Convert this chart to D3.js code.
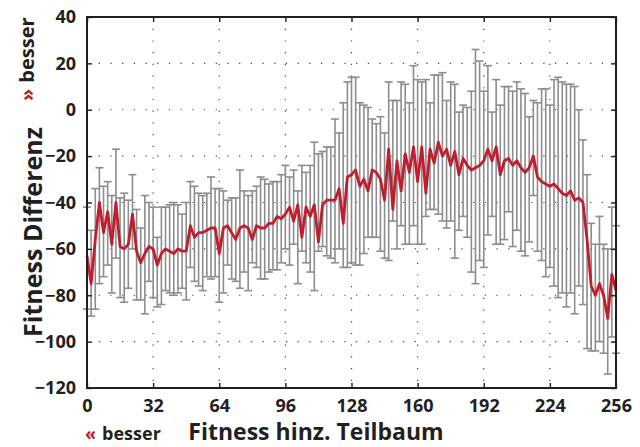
<!DOCTYPE html>
<html>
<head>
<meta charset="utf-8">
<script src="https://cdn.jsdelivr.net/npm/d3@7/dist/d3.min.js"></script>
<style>
  html, body { margin: 0; padding: 0; background: #fff; }
  svg { display: block; }
  text { font-family: "Open Sans", "DejaVu Sans", sans-serif; font-weight: 700; fill: #231f20; }
</style>
</head>
<body>
<svg id="chart" width="640" height="447"></svg>
<script>
// Subtree fitness (x) sampled every 2 units from 0 to 256
const xPositions = d3.range(0, 257, 2);

// Mean fitness difference at each x
const meanDiff = [
  -63, -75, -56, -40, -53, -44, -58, -40, -59, -60, -58, -45, -61, -66, -62, -59,
  -60, -67, -62, -60, -61, -62, -60, -61, -61, -50, -55, -53, -53, -52, -51, -51,
  -62, -51, -50, -53, -56, -51, -50, -51, -56, -50, -51, -51, -49, -49, -46, -47,
  -45, -42, -48, -41, -55, -42, -46, -41, -57, -41, -39, -39, -39, -34, -49, -29,
  -28, -26, -33, -30, -35, -26, -27, -30, -39, -17, -43, -22, -35, -19, -27, -16,
  -31, -16, -36, -17, -23, -14, -20, -17, -24, -18, -28, -21, -24, -26, -25, -24,
  -22, -17, -22, -16, -28, -22, -21, -24, -22, -25, -27, -25, -20, -29, -31, -32,
  -33, -32, -34, -36, -37, -35, -39, -38, -40, -56, -76, -80, -75, -80, -90, -71,
  -78
];

// Upper end of each error bar
const upperDiff = [
  -42, -52, -34, -25, -33, -31, -37, -17, -38, -36, -39, -28, -43, -51, -37, -40,
  -42, -55, -42, -42, -41, -40, -41, -45, -40, -31, -33, -36, -37, -36, -29, -34,
  -34, -35, -39, -38, -38, -26, -35, -37, -35, -33, -29, -30, -32, -31, -31, -28,
  -24, -29, -26, -35, -24, -27, -24, -14, -19, -18, -16, -16, -4, -10, 3, 12,
  14, 14, 3, 2, 1, -4, -6, -3, -10, 12, 4, 4, 12, 11, 3, 19,
  13, 12, 13, 3, 15, 15, 16, 4, 12, 11, -1, 2, 1, 8, 26, 21,
  8, 19, -1, 13, 2, 10, 10, 8, 12, 9, 7, -3, 4, 3, 9, 9,
  2, 13, 14, 12, 11, 11, 10, 0, -13, -28, -49, -58, -46, -58, -60, -42,
  -50
];

// Lower end of each error bar
const lowerDiff = [
  -86, -89, -86, -75, -72, -67, -79, -64, -81, -83, -77, -60, -82, -82, -88, -74,
  -81, -85, -84, -78, -79, -80, -79, -77, -82, -68, -74, -76, -78, -72, -73, -72,
  -83, -79, -67, -73, -74, -77, -70, -78, -66, -68, -73, -73, -70, -69, -69, -66,
  -60, -67, -58, -75, -61, -66, -70, -78, -61, -59, -63, -64, -66, -60, -68, -68,
  -66, -67, -67, -62, -55, -55, -55, -61, -64, -65, -48, -60, -50, -58, -58, -50,
  -58, -58, -46, -43, -43, -45, -48, -51, -48, -64, -52, -46, -55, -70, -75, -65,
  -68, -54, -46, -58, -58, -56, -44, -59, -52, -61, -63, -57, -37, -61, -65, -72,
  -68, -76, -81, -79, -85, -79, -88, -76, -84, -103, -104, -104, -100, -105, -114, -98,
  -105
];

const xTicks = [0, 32, 64, 96, 128, 160, 192, 224, 256];
const yTicks = [40, 20, 0, -20, -40, -60, -80, -100, -120];

const margin = { left: 87, right: 24, top: 17, bottom: 59 };
const W = 640, H = 447;
const innerW = W - margin.left - margin.right;
const innerH = H - margin.top - margin.bottom;

const svg = d3.select("#chart");
const g = svg.append("g").attr("transform", `translate(${margin.left},${margin.top})`);

const x = d3.scaleLinear().domain([0, 256]).range([0, innerW]);
const y = d3.scaleLinear().domain([-120, 40]).range([innerH, 0]);

// Dotted grid
const grid = g.append("g").attr("class", "grid");
grid.selectAll("line.gx").data(xTicks.slice(1, -1)).join("line")
  .attr("x1", d => x(d)).attr("x2", d => x(d))
  .attr("y1", 0).attr("y2", innerH)
  .attr("stroke", "#444").attr("stroke-width", 1.2)
  .attr("stroke-dasharray", "1.2 10.5");
grid.selectAll("line.gy").data(yTicks.slice(1, -1)).join("line")
  .attr("x1", 0).attr("x2", innerW)
  .attr("y1", d => y(d)).attr("y2", d => y(d))
  .attr("stroke", "#444").attr("stroke-width", 1.2)
  .attr("stroke-dasharray", "1.2 10.5");

const data = xPositions.map((xv, i) => ({
  x: xv, m: meanDiff[i], hi: upperDiff[i], lo: lowerDiff[i]
}));

// Error bars
const bars = g.append("g").attr("class", "errorbars")
  .attr("stroke", "#8d8d8f").attr("stroke-width", 1.6).attr("fill", "none");
const cap = 4;
bars.selectAll("line.v").data(data).join("line").attr("class", "v")
  .attr("x1", d => x(d.x)).attr("x2", d => x(d.x))
  .attr("y1", d => y(d.hi)).attr("y2", d => y(d.lo));
bars.selectAll("line.t").data(data).join("line").attr("class", "t")
  .attr("x1", d => x(d.x) - cap).attr("x2", d => x(d.x) + cap)
  .attr("y1", d => y(d.hi)).attr("y2", d => y(d.hi));
bars.selectAll("line.b").data(data).join("line").attr("class", "b")
  .attr("x1", d => x(d.x) - cap).attr("x2", d => x(d.x) + cap)
  .attr("y1", d => y(d.lo)).attr("y2", d => y(d.lo));

// Mean line
g.append("path").datum(data)
  .attr("fill", "none").attr("stroke", "#be1e2d").attr("stroke-width", 2.8)
  .attr("stroke-linejoin", "round")
  .attr("d", d3.line().x(d => x(d.x)).y(d => y(d.m)));

// Axes with inward ticks on all four sides
const tickLen = 5;
const axB = g.append("g").attr("transform", `translate(0,${innerH})`)
  .call(d3.axisBottom(x).tickValues(xTicks).tickSizeInner(-tickLen).tickSizeOuter(0).tickPadding(11));
const axL = g.append("g")
  .call(d3.axisLeft(y).tickValues(yTicks).tickSizeInner(-tickLen).tickSizeOuter(0).tickPadding(11));
g.append("g").call(d3.axisTop(x).tickValues(xTicks).tickSizeInner(-tickLen).tickSizeOuter(0).tickFormat(""));
g.append("g").attr("transform", `translate(${innerW},0)`)
  .call(d3.axisRight(y).tickValues(yTicks).tickSizeInner(-tickLen).tickSizeOuter(0).tickFormat(""));

g.selectAll(".domain").remove();
g.selectAll(".tick line").attr("stroke", "#231f20").attr("stroke-width", 1.4);
[axB, axL].forEach(a => a.selectAll("text")
  .style("font-family", "'Open Sans', sans-serif").style("font-weight", 700)
  .style("font-size", "18px").attr("fill", "#231f20"));

// Frame
g.append("rect").attr("x", 0).attr("y", 0).attr("width", innerW).attr("height", innerH)
  .attr("fill", "none").attr("stroke", "#231f20").attr("stroke-width", 2);

// Axis titles
svg.append("text").attr("x", 316).attr("y", 440).attr("text-anchor", "middle")
  .style("font-size", "23px").text("Fitness hinz. Teilbaum");
const xb = svg.append("text").attr("x", 85).attr("y", 440).style("font-size", "18px");
xb.append("tspan").style("fill", "#be1e2d").text("«");
xb.append("tspan").attr("dx", 6).text("besser");

svg.append("text").attr("transform", "translate(42,232) rotate(-90)")
  .attr("text-anchor", "middle").style("font-size", "25px").text("Fitness Differenz");
const yb = svg.append("text").attr("transform", "translate(34,101) rotate(-90)")
  .style("font-size", "20px");
yb.append("tspan").style("fill", "#be1e2d").text("»");
yb.append("tspan").attr("dx", 6).text("besser");
</script>
</body>
</html>
